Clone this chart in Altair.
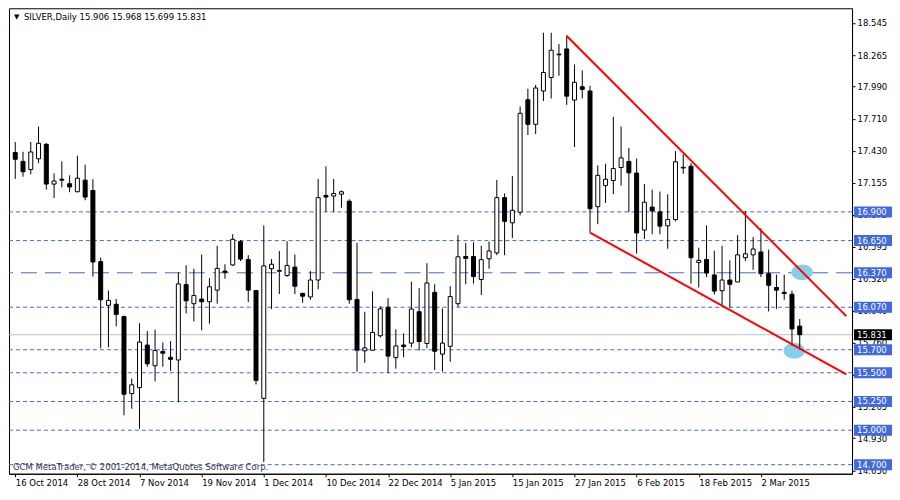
import altair as alt
import pandas as pd

# ---------------- data ----------------
opens = [17.417, 17.339, 17.269, 17.362, 17.488, 17.142, 17.184, 17.145, 17.075, 17.176,
         17.086, 16.467, 16.087, 16.096, 15.989, 15.319, 15.370, 15.741, 15.561, 15.685,
         15.634, 15.611, 16.267, 16.101, 16.141, 16.118, 16.219, 16.385, 16.438, 16.641,
         16.486, 16.216, 15.277, 16.405, 16.383, 16.346, 16.419, 16.191, 16.160, 16.307,
         17.043, 17.038, 17.054, 16.993, 16.138, 15.691, 15.696, 15.822, 16.070, 15.632,
         15.741, 15.758, 16.031, 15.755, 16.200, 15.662, 15.730, 16.101, 16.512, 16.512,
         16.312, 16.492, 16.543, 17.024, 16.805, 16.897, 17.876, 17.662, 17.952, 18.070,
         18.273, 18.318, 17.873, 17.989, 17.952, 16.945, 17.130, 17.173, 17.286, 17.339,
         17.238, 16.742, 16.942, 16.900, 16.779, 16.833, 17.288, 17.297, 16.459, 16.486,
         16.351, 16.214, 16.307, 16.290, 16.501, 16.526, 16.551, 16.362, 16.242, 16.200,
         16.183, 15.906]
highs = [17.508, 17.423, 17.508, 17.643, 17.499, 17.235, 17.339, 17.218, 17.389, 17.311,
         17.184, 16.501, 16.216, 16.141, 15.997, 15.449, 15.930, 15.862, 15.876, 15.763,
         15.775, 16.374, 16.436, 16.405, 16.529, 16.324, 16.605, 16.444, 16.706, 16.655,
         16.523, 16.219, 16.782, 16.489, 16.560, 16.644, 16.529, 16.195, 16.385, 17.187,
         17.297, 17.187, 17.086, 17.010, 16.630, 16.031, 16.208, 16.079, 16.149, 15.879,
         15.843, 16.292, 16.236, 16.453, 16.270, 16.059, 16.253, 16.697, 16.630, 16.636,
         16.605, 16.641, 17.178, 17.060, 17.212, 17.817, 17.972, 18.005, 18.459, 18.459,
         18.360, 18.436, 18.183, 18.132, 17.997, 17.305, 17.319, 17.727, 17.643, 17.457,
         17.364, 17.142, 17.094, 17.077, 17.052, 17.429, 17.400, 17.324, 16.588, 16.782,
         16.562, 16.605, 16.478, 16.697, 16.906, 16.681, 16.757, 16.571, 16.354, 16.354,
         16.214, 15.968]
lows = [17.187, 17.206, 17.227, 17.324, 17.094, 17.021, 17.113, 17.071, 17.071, 17.001,
        16.337, 15.713, 15.721, 15.904, 15.130, 15.187, 15.012, 15.552, 15.426, 15.552,
        15.516, 15.243, 16.016, 15.946, 15.870, 15.927, 16.101, 16.318, 16.430, 16.472,
        16.115, 15.398, 14.723, 16.054, 16.185, 16.335, 16.185, 16.109, 16.135, 16.227,
        16.900, 16.900, 16.936, 16.101, 15.510, 15.586, 15.690, 15.806, 15.497, 15.535,
        15.634, 15.721, 15.693, 15.713, 15.524, 15.510, 15.595, 16.073, 16.270, 16.276,
        16.177, 16.405, 16.523, 16.523, 16.672, 16.869, 17.569, 17.578, 17.865, 17.887,
        18.084, 17.831, 17.465, 17.887, 16.720, 16.793, 16.978, 17.054, 17.128, 16.897,
        16.537, 16.664, 16.706, 16.706, 16.579, 16.818, 17.232, 16.276, 16.242, 16.332,
        16.180, 16.081, 16.067, 16.290, 16.472, 16.396, 16.332, 16.033, 16.056, 16.135,
        15.735, 15.699]
closes = [17.358, 17.249, 17.421, 17.497, 17.142, 17.168, 17.176, 17.117, 17.193, 17.029,
          16.464, 16.135, 16.130, 16.008, 15.313, 15.395, 15.767, 15.578, 15.693, 15.670,
          15.617, 16.273, 16.126, 16.172, 16.118, 16.248, 16.408, 16.374, 16.661, 16.489,
          16.219, 15.434, 16.430, 16.444, 16.391, 16.433, 16.253, 16.166, 16.307, 17.024,
          17.029, 17.060, 17.075, 16.135, 15.696, 15.716, 15.851, 16.056, 15.645, 15.733,
          15.727, 16.054, 15.772, 16.281, 15.687, 15.758, 16.163, 16.509, 16.495, 16.337,
          16.484, 16.560, 17.024, 16.818, 16.914, 17.758, 17.662, 17.978, 18.113, 18.307,
          18.267, 17.907, 18.028, 17.966, 16.928, 17.218, 17.184, 17.277, 17.370, 17.240,
          16.717, 16.984, 16.908, 16.776, 16.833, 17.336, 17.282, 16.501, 16.478, 16.368,
          16.211, 16.307, 16.270, 16.526, 16.535, 16.577, 16.362, 16.261, 16.219, 16.189,
          15.881, 15.831]

date_ticks = [0, 8, 16, 24, 32, 40, 48, 56, 64, 72, 80, 88, 96]
date_labels = ["16 Oct 2014", "28 Oct 2014", "7 Nov 2014", "19 Nov 2014", "1 Dec 2014",
               "10 Dec 2014", "22 Dec 2014", "5 Jan 2015", "15 Jan 2015", "27 Jan 2015",
               "6 Feb 2015", "18 Feb 2015", "2 Mar 2015"]
price_ticks = [18.545, 18.265, 17.990, 17.710, 17.430, 17.155, 16.875, 16.595, 16.320,
               16.040, 15.760, 15.485, 15.205, 14.930, 14.650]

dotted_levels = [16.900, 16.650, 16.070, 15.700, 15.500, 15.250, 15.000, 14.700]
dashed_levels = [16.370]
box_levels = [16.900, 16.650, 16.370, 16.070, 15.700, 15.500, 15.250, 15.000, 14.700]
last_price = [15.831]

upper_line_x = [71, 107]
upper_line_y = [18.430, 15.993]
lower_line_x = [74, 107]
lower_line_y = [16.720, 15.486]

ellipse_x = [101.3, 100.3]
ellipse_y = [16.374, 15.691]

symbol = "SILVER,Daily"
copyright_text = "GCM MetaTrader, \u00a9 2001-2014, MetaQuotes Software Corp."

# ---------------- chart ----------------
W, H = 844, 466
FONT = "DejaVu Sans"
BLUE = "#4169e1"

xscale = alt.Scale(domain=[-0.16, 107.09], nice=False, zero=False)
yscale = alt.Scale(domain=[14.621, 18.672], nice=False, zero=False)

label_expr = "[" + ",".join("'%s'" % s for s in date_labels) + "][round(datum.value / 8)]"
xaxis = alt.Axis(values=date_ticks, labelExpr=label_expr, title=None, grid=False,
                 labelAlign="left", labelFlush=False, labelOverlap=False, tickSize=3,
                 tickColor="black", domainColor="black", labelColor="black",
                 labelFont=FONT, labelFontSize=8.5, labelPadding=2)
yaxis = alt.Axis(values=price_ticks, format=".3f", title=None, grid=False, orient="right",
                 labelOverlap=False, labelFlush=False, tickSize=3, tickColor="black",
                 domainColor="black", labelColor="black", labelFont=FONT,
                 labelFontSize=8.5, labelPadding=2)


def X(field):
    return alt.X(field, type="quantitative", scale=xscale, axis=xaxis)


def Y(field):
    return alt.Y(field, type="quantitative", scale=yscale, axis=yaxis)


candles = pd.DataFrame({"i": list(range(len(opens))), "open": opens, "high": highs,
                        "low": lows, "close": closes})

dotted = alt.Chart(pd.DataFrame({"level": dotted_levels})).mark_rule(
    color=BLUE, strokeWidth=1, strokeDash=[4, 3]).encode(y=Y("level"))
dashed = alt.Chart(pd.DataFrame({"level": dashed_levels})).mark_rule(
    color=BLUE, strokeWidth=1, strokeDash=[16, 8]).encode(y=Y("level"))
lastline = alt.Chart(pd.DataFrame({"level": last_price})).mark_rule(
    color="#c0c0c0", strokeWidth=1).encode(y=Y("level"))

ellipses = alt.Chart(pd.DataFrame({"i": ellipse_x, "p": ellipse_y})).mark_point(
    shape="M-1,0A1,0.72,0,1,1,1,0A1,0.72,0,1,1,-1,0Z", filled=True, color="#87ceeb",
    opacity=1, size=470).encode(x=X("i"), y=Y("p"))

wicks = alt.Chart(candles).mark_rule(color="black", strokeWidth=1).encode(
    x=X("i"), y=Y("low"), y2="high")
bodies = alt.Chart(candles).mark_bar(size=4, stroke="black", strokeWidth=1).encode(
    x=X("i"), y=Y("open"), y2="close",
    fill=alt.condition("datum.open > datum.close", alt.value("black"), alt.value("white")))

upper = alt.Chart(pd.DataFrame({"i": upper_line_x, "p": upper_line_y})).mark_line(
    color="red", strokeWidth=2, clip=True).encode(x=X("i"), y=Y("p"))
lower = alt.Chart(pd.DataFrame({"i": lower_line_x, "p": lower_line_y})).mark_line(
    color="red", strokeWidth=2, clip=True).encode(x=X("i"), y=Y("p"))

box_path = "M-1,-0.29H1V0.29H-1Z"
boxes = alt.Chart(pd.DataFrame({"level": box_levels})).mark_point(
    shape=box_path, filled=True, color=BLUE, opacity=1, size=1444).encode(
    x=alt.value(W + 21), y=Y("level"))
box_text = alt.Chart(pd.DataFrame({"level": box_levels})).mark_text(
    align="left", baseline="middle", color="white", font=FONT, fontSize=8.5).encode(
    x=alt.value(W + 5), y=Y("level"), text=alt.Text("level:Q", format=".3f"))
last_box = alt.Chart(pd.DataFrame({"level": last_price})).mark_point(
    shape=box_path, filled=True, color="black", opacity=1, size=1444).encode(
    x=alt.value(W + 21), y=Y("level"))
last_text = alt.Chart(pd.DataFrame({"level": last_price})).mark_text(
    align="left", baseline="middle", color="white", font=FONT, fontSize=8.5).encode(
    x=alt.value(W + 5), y=Y("level"), text=alt.Text("level:Q", format=".3f"))

title_str = "%s  %.3f %.3f %.3f %.3f" % (symbol, opens[-1], highs[-1], lows[-1], closes[-1])
title_df = pd.DataFrame({"t": [title_str], "tri": ["\u25bc"], "c": [copyright_text]})
tri = alt.Chart(title_df).mark_text(align="left", baseline="middle", fontSize=7,
                                     font=FONT, color="black").encode(
    x=alt.value(5), y=alt.value(9), text="tri:N")
title = alt.Chart(title_df).mark_text(align="left", baseline="middle", fontSize=8.5,
                                       font=FONT, color="black").encode(
    x=alt.value(15), y=alt.value(9), text="t:N")
copyr = alt.Chart(title_df).mark_text(align="left", baseline="middle", fontSize=8.5,
                                       font=FONT, color="#333333").encode(
    x=alt.value(4), y=alt.value(H - 7), text="c:N")

chart = alt.layer(
    dotted, dashed, lastline, ellipses, wicks, bodies, upper, lower,
    boxes, box_text, last_box, last_text, tri, title, copyr
).properties(width=W, height=H, padding=0, background="white").configure_view(
    stroke="black", strokeWidth=1)

chart.save("out.html", embed_options={"renderer": "svg", "actions": False})
